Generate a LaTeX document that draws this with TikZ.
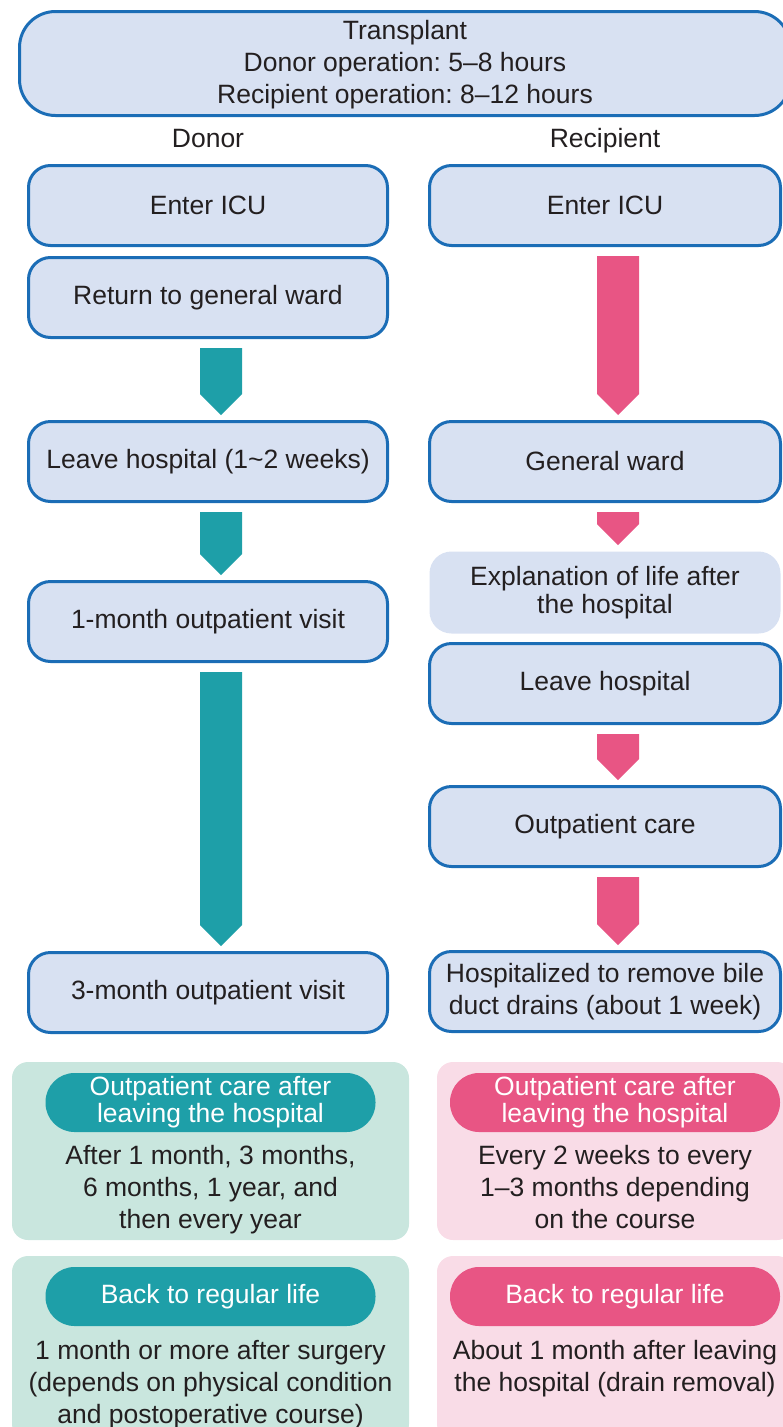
\documentclass[tikz,border=0pt]{standalone}
\usepackage{fontspec}
\setmainfont{Liberation Sans}
\usepackage{xcolor}
\usetikzlibrary{positioning,calc}
\definecolor{edge}{HTML}{1B6DB6}
\definecolor{boxfill}{HTML}{D8E1F2}
\definecolor{ink}{HTML}{231F20}
\definecolor{donorteal}{HTML}{1E9FA8}
\definecolor{recippink}{HTML}{E85584}
\definecolor{softteal}{HTML}{C9E6DE}
\definecolor{softpink}{HTML}{F9DCE7}
\newcommand{\flowarr}[3]{%
  \fill[#1] ($(#2.south)+(-8,9)$) -- ($(#2.south)+(34,9)$) -- ($(#3.north)+(34,-26)$)
    -- ($(#3.north)+(13,-5)$) -- ($(#3.north)+(-8,-26)$) -- cycle;}
\frenchspacing

\begin{document}
\begin{tikzpicture}[
  x=1pt, y=-1pt,
  font=\fontsize{26.5}{32}\selectfont, text=ink,
  stage/.style={draw=edge, line width=3pt, fill=boxfill, rounded corners=22pt, minimum width=359pt, minimum height=80pt, inner sep=0pt, align=center},
  rstage/.style={stage, minimum width=351pt},
  panel/.style={rounded corners=16pt, inner sep=0pt, outer sep=0pt},
  pill/.style={rounded corners=29pt, minimum width=330pt, minimum height=59pt, inner sep=0pt, outer sep=0pt, align=center, text=white, font=\fontsize{26.5}{27}\selectfont},
  note/.style={inner sep=0pt, align=center},
  side/.style={text height=19pt, text depth=6pt}
]
\useasboundingbox (0,0) rectangle (782,1427);
\node[stage, minimum width=771pt, minimum height=104pt, rounded corners=36pt] (tx) at (405,63.5) {\strut Transplant\\Donor operation: 5–8 hours\\Recipient operation: 8–12 hours};
\node[side] (dlbl) at (208,141) {Donor};
\node[side] (rlbl) at (605,141) {Recipient};

\node[stage] (dicu) at (208,205.5) {Enter ICU};
\node[stage, below=9pt of dicu] (dward) {Return to general ward};
\node[stage, below=81pt of dward] (dleave) {Leave hospital (1\textasciitilde2 weeks)};
\node[stage, below=77pt of dleave] (d1m) {1-month outpatient visit};
\node[stage, below=288pt of d1m] (d3m) {3-month outpatient visit};

\node[rstage] (ricu) at (605,205.5) {Enter ICU};
\node[rstage, below=173pt of ricu] (rward) {General ward};
\node[rstage, draw=none, minimum height=82pt, font=\fontsize{26.5}{28}\selectfont, below=47pt of rward] (rexpl) {Explanation of life after\\the hospital};
\node[rstage, below=7pt of rexpl] (rleave) {Leave hospital};
\node[rstage, below=60pt of rleave] (rout) {Outpatient care};
\node[rstage, below=82pt of rout] (rbile) {Hospitalized to remove bile\\duct drains (about 1 week)};

\flowarr{donorteal}{dward}{dleave}
\flowarr{donorteal}{dleave}{d1m}
\flowarr{donorteal}{d1m}{d3m}
\flowarr{recippink}{ricu}{rward}
\flowarr{recippink}{rward}{rexpl}
\flowarr{recippink}{rleave}{rout}
\flowarr{recippink}{rout}{rbile}

\node[panel, fill=softteal, minimum width=397pt, minimum height=178pt] (dcare) at (210.5,1151) {};
\node[pill, fill=donorteal, below=11pt of dcare.north] (dcarehd) {Outpatient care after\\leaving the hospital};
\node[note, below=13pt of dcarehd] (dcaretx) {After 1 month, 3 months,\\6 months, 1 year, and\\then every year};
\node[panel, fill=softpink, minimum width=356pt, minimum height=178pt] (rcare) at (615,1151) {};
\node[pill, fill=recippink, below=11pt of rcare.north] (rcarehd) {Outpatient care after\\leaving the hospital};
\node[note, below=13pt of rcarehd] (rcaretx) {Every 2 weeks to every\\1–3 months depending\\on the course};

\node[panel, fill=softteal, minimum width=397pt, minimum height=184pt] (dlife) at (210.5,1348) {};
\node[pill, fill=donorteal, below=11pt of dlife.north] (dlifehd) {Back to regular life};
\node[note, below=14pt of dlifehd] (dlifetx) {1 month or more after surgery\\(depends on physical condition\\and postoperative course)};
\node[panel, fill=softpink, minimum width=356pt, minimum height=184pt] (rlife) at (615,1348) {};
\node[pill, fill=recippink, below=11pt of rlife.north] (rlifehd) {Back to regular life};
\node[note, below=14pt of rlifehd] (rlifetx) {About 1 month after leaving\\the hospital (drain removal)};
\end{tikzpicture}
\end{document}
